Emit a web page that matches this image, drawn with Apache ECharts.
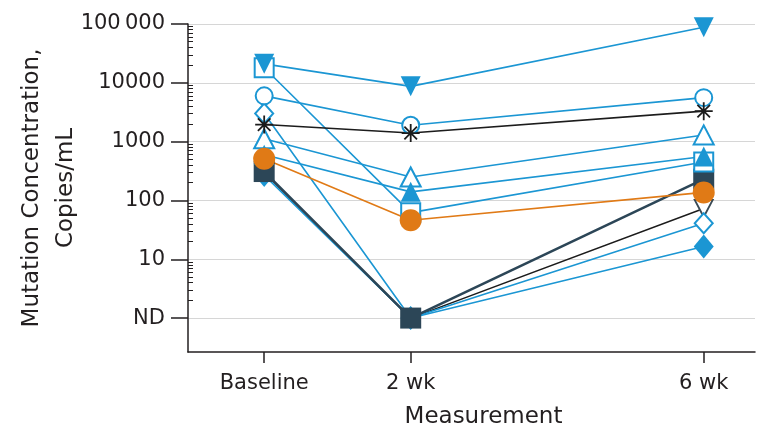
<!DOCTYPE html>
<html>
<head>
<meta charset="utf-8">
<script src="https://cdn.jsdelivr.net/npm/echarts@6/dist/echarts.min.js"></script>
<style>
  html, body { margin: 0; padding: 0; background: #fff; }
  #chart { width: 759px; height: 434px; }
</style>
</head>
<body>
<div id="chart"></div>
<script>
// ---- data ----
const weeks = [0, 2, 6];
const timeLabels = ['Baseline', '2 wk', '6 wk'];
const ND = 1; // not detected, drawn at the "ND" tick
const yTickValues = [1, 10, 100, 1000, 10000, 100000];
const yTickLabels = ['ND', '10', '100', '1000', '10000', '100\u2009000'];
const minorMultipliers = [2, 3, 4, 5, 6, 7, 8, 9];
const minorDecades = [1, 10, 100, 1000, 10000];

const pOpenInvTri   = [300, ND, 73];
const pFilledDiamond = [270, ND, 16.5];
const pOpenDiamond  = [3000, ND, 41];
const pDarkSquare   = [310, ND, 230];
const pOpenSquare   = [18000, 62, 450];
const pOpenTri      = [1120, 250, 1300];
const pFilledTri    = [600, 140, 560];
const pOrange       = [510, 46, 137];
const pOpenCircle   = [6000, 1900, 5600];
const pStar         = [1950, 1400, 3300];
const pInvTri       = [21000, 8700, 88000];

// ---- styles ----
const BLUE = '#1b96d3';
const ORANGE = '#e07a16';
const DARK = '#2c4657';
const BLACK = '#1c1c1c';
const TXT = '#231f20';
const FONT = 'DejaVu Sans';
const STAR = 'path://M-1,-10 L1,-10 L1,10 L-1,10 Z M-10,-1 L10,-1 L10,1 L-10,1 Z M-7.7,-6.3 L-6.3,-7.7 L7.7,6.3 L6.3,7.7 Z M-7.7,6.3 L6.3,-7.7 L7.7,-6.3 L-6.3,7.7 Z';

const minorTicks = [];
minorDecades.forEach(d => minorMultipliers.forEach(m => minorTicks.push(m * d)));

function mk(name, vals, o) {
  return {
    name: name,
    type: 'line',
    data: weeks.map((w, i) => [w, vals[i]]),
    symbol: o.symbol,
    symbolSize: o.size,
    symbolRotate: o.rotate || 0,
    showAllSymbol: true,
    lineStyle: { color: o.line, width: o.lw || 1.6 },
    itemStyle: { color: o.fill, borderColor: o.border, borderWidth: o.bw || 0 },
    emphasis: { disabled: true },
    z: 2
  };
}

const series = [
  mk('Open inverted triangle', pOpenInvTri, { symbol: 'triangle', rotate: 180, size: [18, 17], line: BLACK, fill: '#fff', border: '#3a4a55', bw: 1.8, lw: 1.5 }),
  mk('Filled diamond', pFilledDiamond, { symbol: 'diamond', size: [20, 24], line: BLUE, fill: BLUE, border: BLUE }),
  mk('Open diamond', pOpenDiamond, { symbol: 'diamond', size: [18, 20], line: BLUE, fill: '#fff', border: BLUE, bw: 2 }),
  mk('Dark square', pDarkSquare, { symbol: 'rect', size: 21, line: DARK, fill: DARK, border: DARK, lw: 2.6 }),
  mk('Open square', pOpenSquare, { symbol: 'rect', size: 19, line: BLUE, fill: '#fff', border: BLUE, bw: 2 }),
  mk('Open triangle', pOpenTri, { symbol: 'triangle', size: [20, 19], line: BLUE, fill: '#fff', border: BLUE, bw: 2 }),
  mk('Filled triangle', pFilledTri, { symbol: 'triangle', size: [20, 20], line: BLUE, fill: BLUE, border: BLUE }),
  mk('Orange circle', pOrange, { symbol: 'circle', size: 22, line: ORANGE, fill: ORANGE, border: ORANGE }),
  mk('Open circle', pOpenCircle, { symbol: 'circle', size: 17, line: BLUE, fill: '#fff', border: BLUE, bw: 2 }),
  mk('Star', pStar, { symbol: STAR, size: 18, line: BLACK, fill: BLACK, border: BLACK }),
  mk('Filled inverted triangle', pInvTri, { symbol: 'triangle', rotate: 180, size: [20, 20], line: BLUE, fill: BLUE, border: BLUE })
];

const chart = echarts.init(document.getElementById('chart'), null, { renderer: 'canvas' });
chart.setOption({
  animation: false,
  backgroundColor: '#fff',
  grid: { left: 188, right: 4, top: 24, bottom: 82, containLabel: false, outerBoundsMode: 'none' },
  xAxis: {
    type: 'value',
    min: -1.04,
    max: 6.7,
    name: 'Measurement',
    nameLocation: 'middle',
    nameGap: 54,
    nameMoveOverlap: false,
    nameTextStyle: { fontFamily: FONT, fontSize: 23, color: TXT, padding: [0, 0, 0, 24] },
    axisLine: { show: true, onZero: false, lineStyle: { color: TXT, width: 1.5 } },
    axisTick: { show: true, inside: false, length: 11, customValues: weeks, lineStyle: { color: TXT, width: 1.5 } },
    axisLabel: {
      show: true, margin: 21, customValues: weeks,
      fontFamily: FONT, fontSize: 21, color: TXT,
      formatter: v => { const i = weeks.indexOf(v); return i >= 0 ? timeLabels[i] : ''; }
    },
    splitLine: { show: false }
  },
  yAxis: [{
    type: 'log',
    logBase: 10,
    min: 0.265,
    max: 100000,
    name: 'Mutation Concentration,\nCopies/mL',
    nameLocation: 'middle',
    nameGap: 105,
    nameMoveOverlap: false,
    nameTextStyle: { fontFamily: FONT, fontSize: 23, color: TXT, lineHeight: 34 },
    axisLine: { show: true, onZero: false, lineStyle: { color: TXT, width: 1.5 } },
    axisTick: { show: true, inside: false, length: 17, customValues: yTickValues, lineStyle: { color: TXT, width: 1.5 } },
    axisLabel: {
      show: true, margin: 23, customValues: yTickValues,
      fontFamily: FONT, fontSize: 21, color: TXT,
      formatter: v => { const i = yTickValues.findIndex(t => Math.abs(t - v) / t < 1e-6); return i >= 0 ? yTickLabels[i] : ''; }
    },
    splitLine: { show: true, lineStyle: { color: '#d6d6d6', width: 1.2 } }
  }, {
    type: 'log',
    logBase: 10,
    min: 0.265,
    max: 100000,
    position: 'left',
    axisLine: { show: false, onZero: false },
    axisTick: { show: true, inside: true, length: 5, customValues: minorTicks, lineStyle: { color: TXT, width: 1 } },
    axisLabel: { show: false },
    splitLine: { show: false }
  }],
  series: series
});
</script>
</body>
</html>
